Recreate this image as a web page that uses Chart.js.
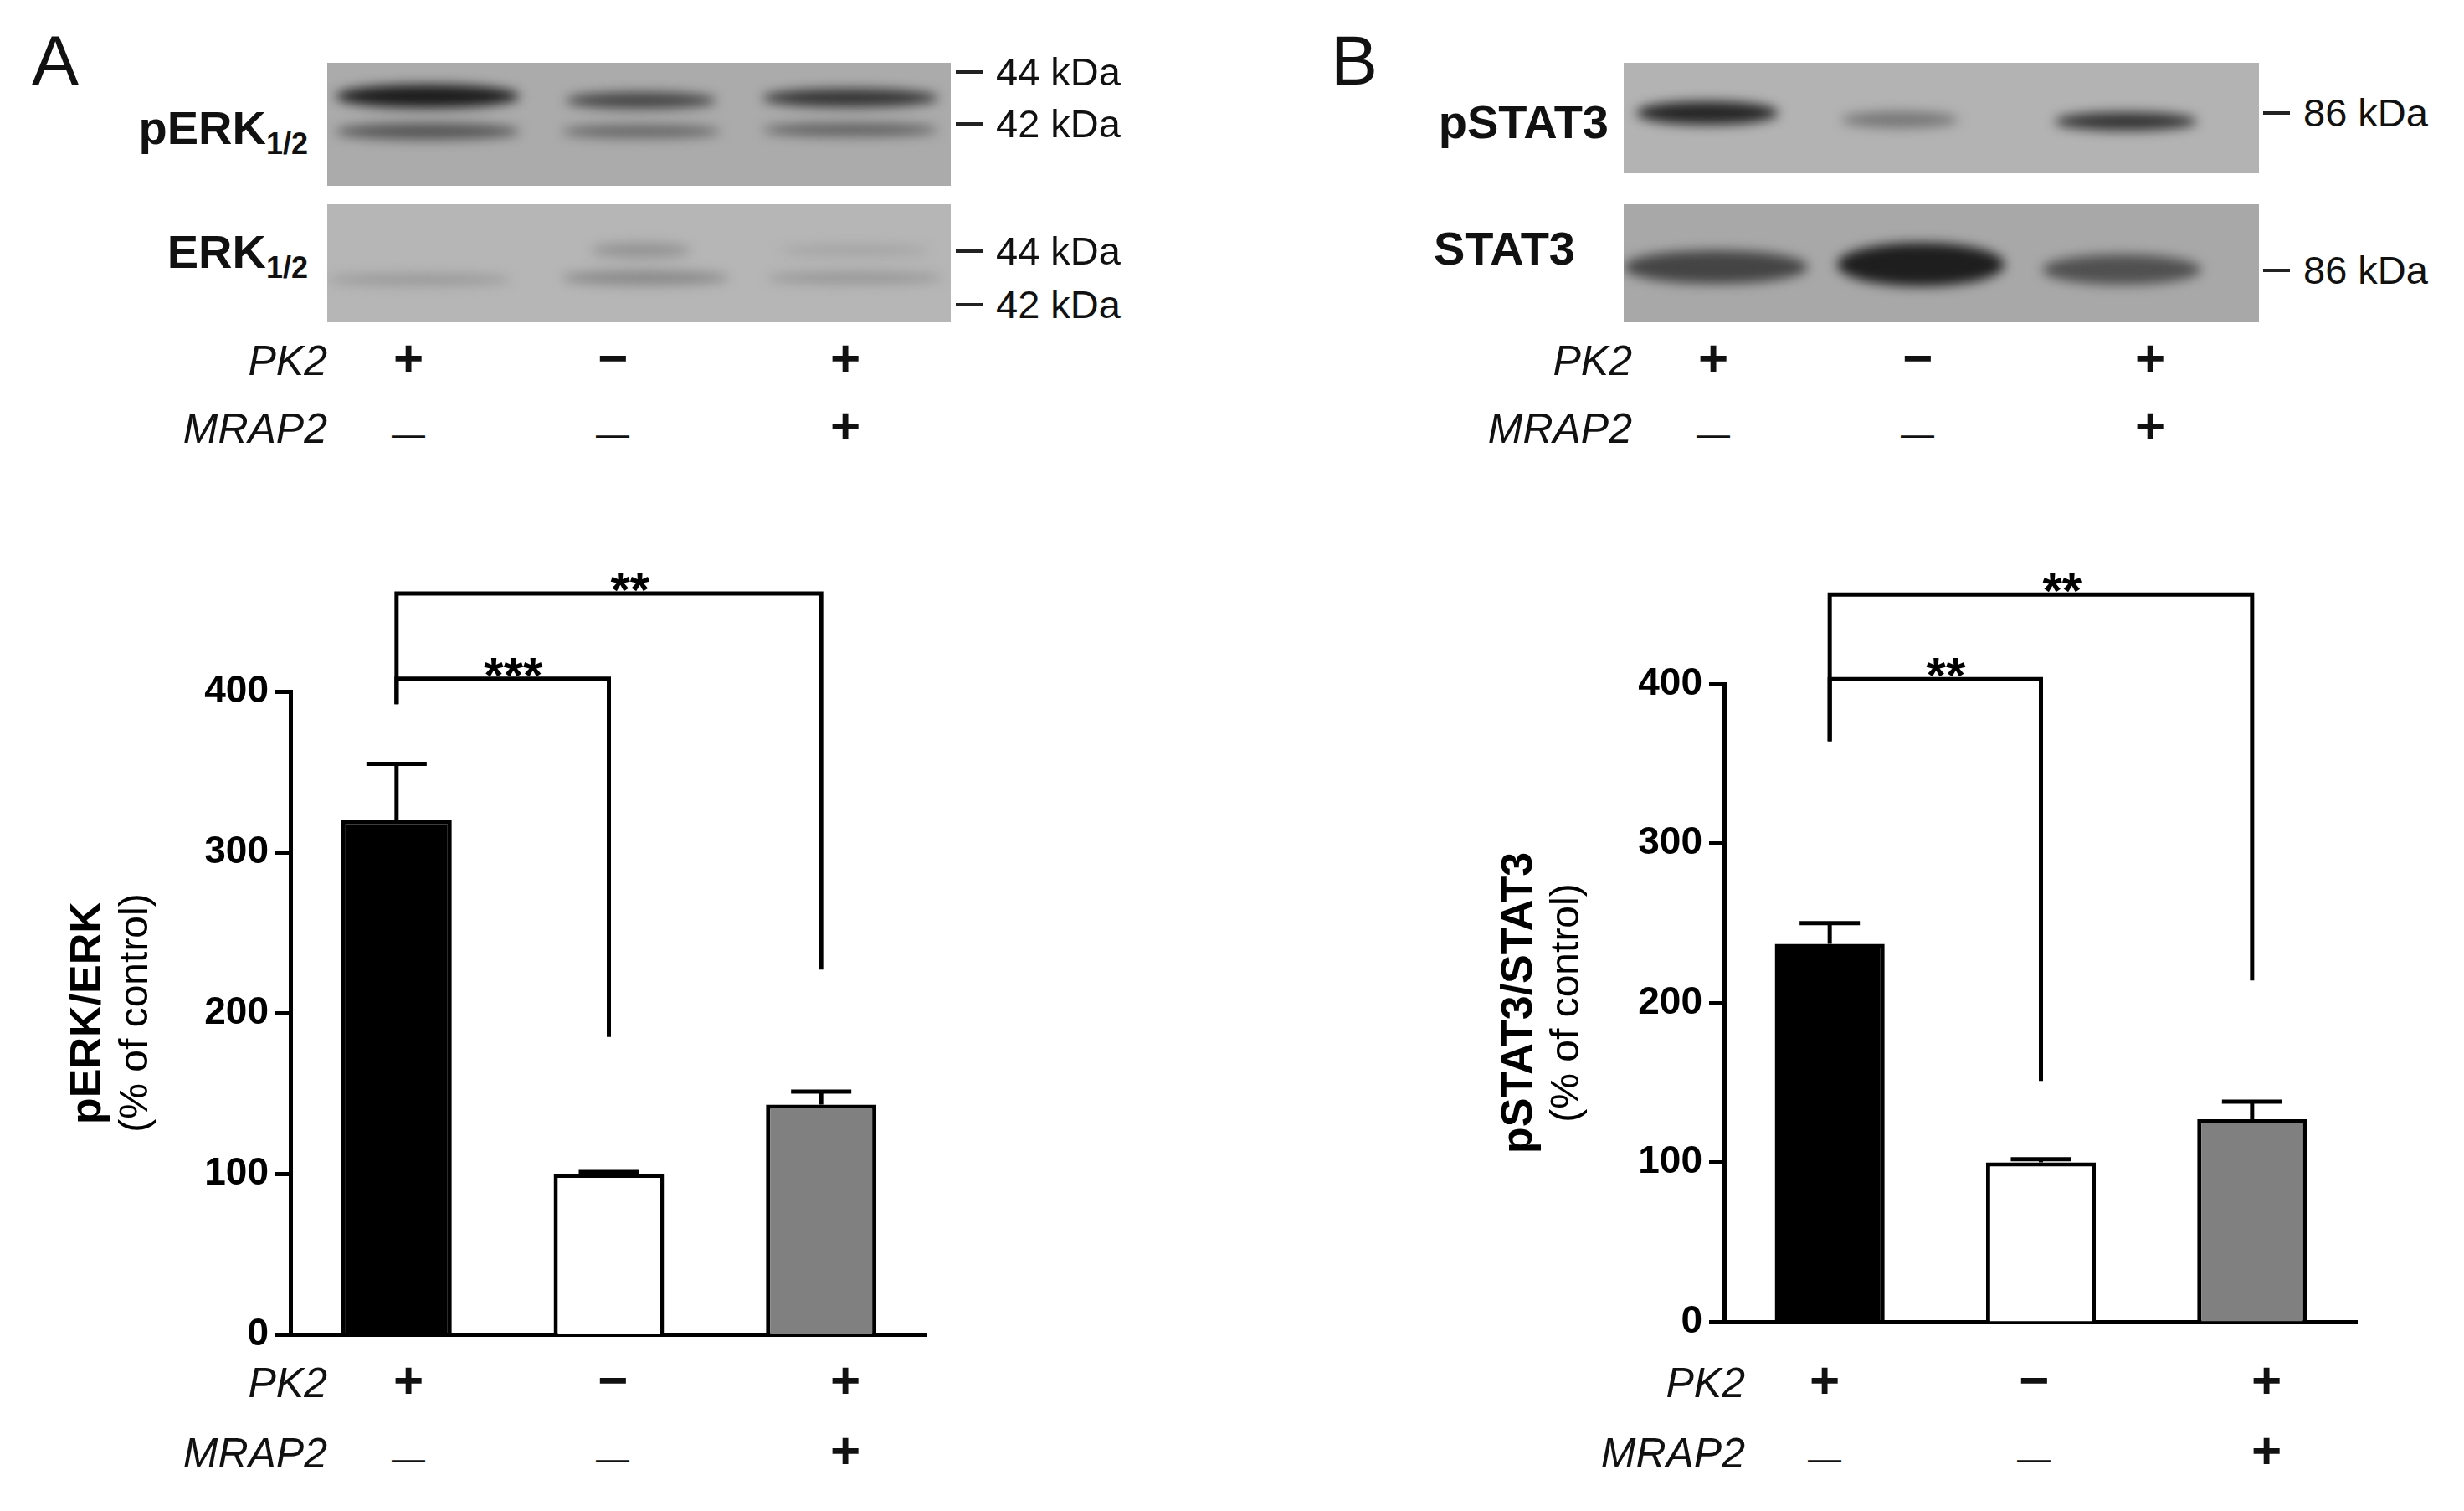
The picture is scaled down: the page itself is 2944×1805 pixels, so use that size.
<!DOCTYPE html>
<html><head><meta charset="utf-8">
<script src="https://cdn.jsdelivr.net/npm/chart.js@4/dist/chart.umd.min.js"></script>
<style>
body{margin:0;width:2944px;height:1805px;background:#fff;position:relative;overflow:hidden;font-family:"Liberation Sans",Arial,sans-serif;}
.t{position:absolute;white-space:nowrap;color:#111;}
canvas{position:absolute;}
</style></head><body>
<script>
// ---- data ----
const categories = ["PK2+ / MRAP2−", "PK2− / MRAP2−", "PK2+ / MRAP2+"];
const erkMeans = [320, 100, 143];
const erkErrors = [35, 1, 8];
const stat3Means = [237, 100, 127];
const stat3Errors = [13, 2, 11];
const barColors = ["#000000", "#ffffff", "#808080"];
const yTicks = [0, 100, 200, 300, 400];
const pk2Row = ["+", "−", "+"];
const mrap2Row = ["−", "−", "+"];
// brackets: [fromIdx, toIdx, barY, leftLegBottom, rightLegBottom, label]
const erkBrackets = [[0, 1, 408, 392, 185, "***"], [0, 2, 461, 392, 227, "**"]];
const stat3Brackets = [[0, 1, 403, 364, 151, "**"], [0, 2, 456, 364, 214, "**"]];

function T(x,y,html,css){const d=document.createElement('div');d.className='t';d.style.left=x+'px';d.style.top=y+'px';d.innerHTML=html;if(css)d.style.cssText+=css;document.body.appendChild(d);return d;}

T(38,24,"A","font-size:84px;");
T(1590,24,"B","font-size:84px;");

function blot(x,y,w,h,bg,bands){
  const c=document.createElement('canvas');c.width=w;c.height=h;c.style.left=x+'px';c.style.top=y+'px';document.body.appendChild(c);
  const g=c.getContext('2d');g.fillStyle=bg;g.fillRect(0,0,w,h);
  g.filter='blur(7px)';
  bands.forEach(b=>{g.fillStyle=b[4];g.beginPath();g.ellipse(b[0],b[1],b[2],b[3],0,0,Math.PI*2);g.fill();});
}
blot(391,75,745,147,"#ababab",[[120,40,110,14,"#1c1c1c"],[120,82,110,10,"#555"],[375,45,90,10,"#444"],[375,82,95,8,"#666"],[625,42,105,11,"#333"],[625,80,105,8,"#606060"]]);
blot(391,244,745,141,"#b6b6b6",[[110,90,110,7,"#999"],[375,55,60,9,"#939393"],[380,88,100,9,"#8a8a8a"],[630,55,90,6,"#a2a2a2"],[630,88,105,7,"#969696"]]);
blot(1940,75,759,132,"#b3b3b3",[[100,60,85,14,"#262626"],[330,68,70,10,"#777"],[600,70,85,11,"#333"]]);
blot(1940,244,759,141,"#a8a8a8",[[110,75,110,20,"#444"],[355,72,100,26,"#1e1e1e"],[595,78,95,18,"#505050"]]);

const LB="font-size:56px;font-weight:bold;";
T(0,120,"pERK<sub style='font-size:36px'>1/2</sub>",LB+"width:368px;text-align:right;");
T(0,268,"ERK<sub style='font-size:36px'>1/2</sub>",LB+"width:368px;text-align:right;");
T(0,113,"pSTAT3",LB+"width:1922px;text-align:right;");
T(0,264,"STAT3",LB+"width:1882px;text-align:right;");
function kda(x,y,txt){T(x,y-2,"",`width:32px;height:0;border-top:4px solid #222;`);T(x+48,y-28,txt,"font-size:47px;");}
kda(1142,86,"44 kDa");kda(1142,148,"42 kDa");kda(1142,300,"44 kDa");kda(1142,364,"42 kDa");
kda(2704,135,"86 kDa");kda(2704,323,"86 kDa");

function rows(labelRight,centers,y1,y2){
  T(0,y1-30,"PK2","font-size:50px;font-style:italic;width:"+labelRight+"px;text-align:right;");
  T(0,y2-30,"MRAP2","font-size:50px;font-style:italic;width:"+labelRight+"px;text-align:right;");
  centers.forEach((cx,i)=>{
    T(cx-40,y1-40,pk2Row[i],"font-size:62px;font-weight:bold;width:80px;text-align:center;");
    T(cx-40,y2-40,mrap2Row[i]==="−"?"—":mrap2Row[i],"font-size:"+(mrap2Row[i]==="−"?"40px;font-weight:normal;line-height:90px;":"62px;font-weight:bold;")+"width:80px;text-align:center;");
  });
}
rows(391,[488,732,1010],432,513);
rows(1950,[2047,2291,2569],432,513);
rows(391,[488,732,1010],1653,1737);
rows(2085,[2180,2430,2708],1653,1737);

const errPlugin={id:'err',afterDatasetsDraw(ch){
  const g=ch.ctx,m=ch.getDatasetMeta(0),ys=ch.scales.y,o=ch.options.plugins.err;
  g.save();g.strokeStyle='#000';g.lineWidth=5;
  m.data.forEach((b,i)=>{const top=ys.getPixelForValue(o.means[i]+o.errs[i]);const yv=ys.getPixelForValue(o.means[i]);
    g.beginPath();g.moveTo(b.x,yv);g.lineTo(b.x,top);g.moveTo(b.x-36,top);g.lineTo(b.x+36,top);g.stroke();});
  g.font='bold 60px "Liberation Sans"';g.textAlign='center';g.fillStyle='#000';
  o.br.forEach(br=>{const x1=m.data[br[0]].x,x2=m.data[br[1]].x,y=ys.getPixelForValue(br[2]);
    g.beginPath();g.moveTo(x1,ys.getPixelForValue(br[3]));g.lineTo(x1,y);g.lineTo(x2,y);g.lineTo(x2,ys.getPixelForValue(br[4]));g.stroke();
    const lx=br[1]===1?x1+0.55*(x2-x1):x1+0.55*(x2-x1);
    g.fillText(br[5],lx,y-10+26);});
  g.translate(o.tx,ch.chartArea.top+(ch.chartArea.bottom-ch.chartArea.top)/2);g.rotate(-Math.PI/2);
  g.textAlign='center';g.font='bold 52px "Liberation Sans"';g.fillText(o.t1,0,0);
  g.font='48px "Liberation Sans"';g.fillText('(% of control)',0,56);
  g.restore();
}};
function mk(left,w,top,bottom,axisW,means,errs,br,t1,tx){
  const c=document.createElement('canvas');c.width=w;c.height=1805;c.style.left=left+'px';c.style.top='0px';c.style.width=w+'px';c.style.height='1805px';document.body.appendChild(c);
  new Chart(c,{type:'bar',plugins:[errPlugin],data:{labels:categories,datasets:[{data:means,backgroundColor:barColors,borderColor:'#000',borderWidth:5,barPercentage:0.52,categoryPercentage:1}]},
  options:{responsive:false,animation:false,devicePixelRatio:1,layout:{padding:{top:top,bottom:1805-bottom-10,right:0,left:0}},
   plugins:{legend:{display:false},tooltip:{enabled:false},err:{means,errs,br,t1,tx}},
   scales:{x:{offset:true,ticks:{display:false},grid:{display:false,drawTicks:false},border:{color:'#000',width:5},afterFit(s){s.height=10;}},
    y:{min:0,max:400,afterBuildTicks(s){s.ticks=yTicks.map(v=>({value:v}));},ticks:{color:'#000',font:{size:46,weight:'bold',family:'"Liberation Sans"'},padding:8},
     grid:{display:true,drawOnChartArea:false,tickLength:18,tickWidth:5,color:'#000'},border:{color:'#000',width:5},afterFit(s){s.width=axisW;}}}}});
}
mk(0,1108,826,1594,347,erkMeans,erkErrors,erkBrackets,'pERK/ERK',120);
mk(1500,1317,817,1579,560,stat3Means,stat3Errors,stat3Brackets,'pSTAT3/STAT3',330);
</script>
</body></html>
